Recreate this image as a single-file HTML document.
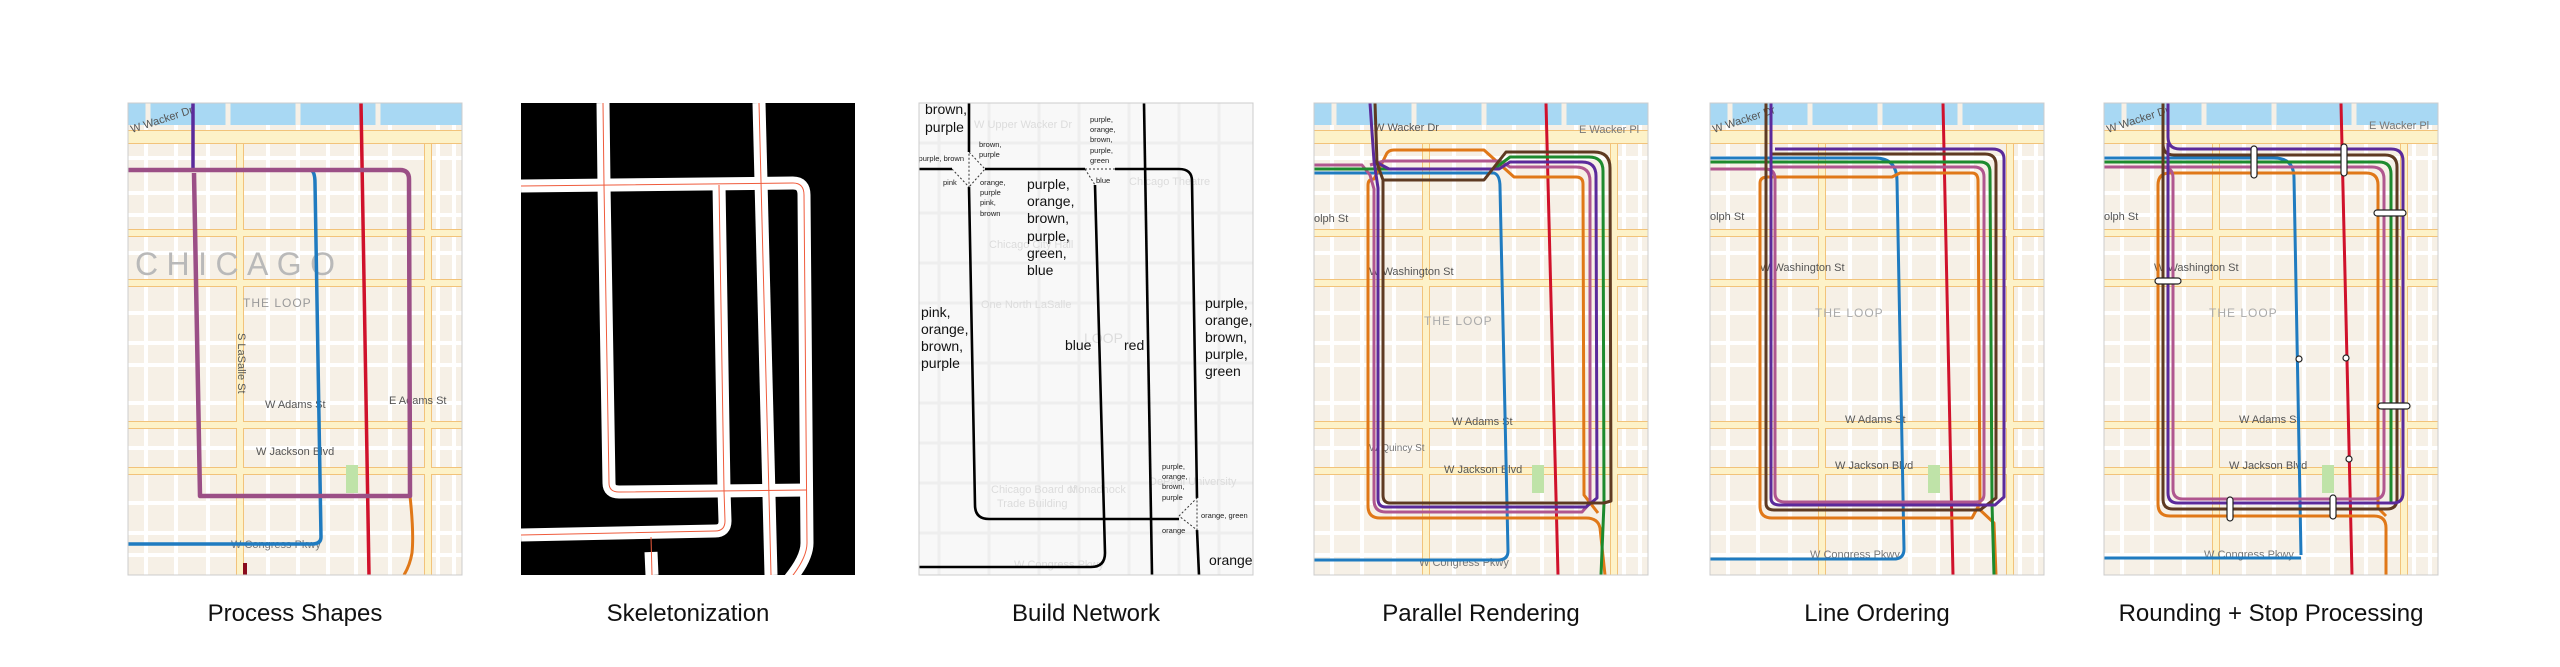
<!DOCTYPE html>
<html><head><meta charset="utf-8"><style>
html,body{margin:0;padding:0;background:#fff;}
svg{display:block;}
text{font-family:"Liberation Sans",sans-serif;}
</style></head><body>
<svg width="2560" height="667" viewBox="0 0 2560 667" xmlns="http://www.w3.org/2000/svg">
<defs>
<clipPath id="cp"><rect x="0" y="0" width="334" height="472"/></clipPath>
<g id="map">
<rect x="0" y="0" width="334" height="472" fill="#f6f0e6"/>
<g stroke="#ffffff" stroke-width="4" fill="none">
<path d="M18 0V472M48 0V472M80 0V472M140 0V472M170 0V472M200 0V472M228 0V472M262 0V472M310 0V472M326 0V472"/>
<path d="M0 55H334M0 90H334M0 112H334M0 150H334M0 210H334M0 240H334M0 262H334M0 300H334M0 345H334M0 400H334M0 430H334M0 452H334"/>
</g>
<g stroke="#f2c37a" stroke-width="8" fill="none">
<path d="M112 40V472M300 40V472M0 130H334M0 180H334M0 322H334M0 368H334"/>
</g>
<g stroke="#fdf2c8" stroke-width="6" fill="none">
<path d="M112 40V472M300 40V472M0 130H334M0 180H334M0 322H334M0 368H334"/>
</g>
<path d="M0 34H334" stroke="#f2c37a" stroke-width="14"/>
<path d="M0 34H334" stroke="#fdf2c8" stroke-width="12"/>
<rect x="0" y="0" width="334" height="22" fill="#a8d8f3"/>
<path d="M20 0V22M100 0V22M170 0V22M250 0V22" stroke="#f6f0e6" stroke-width="5"/>
<rect x="218" y="362" width="12" height="28" fill="#bfe3a8"/>
</g>
<g id="mapl">
<text x="4" y="30" font-size="11" fill="#555" transform="rotate(-18 4 30)">W Wacker Dr</text>
<text x="50" y="168" font-size="11" fill="#555">W Washington St</text>
<text x="105" y="214" font-size="12" fill="#aaa" letter-spacing="1">THE LOOP</text>
<text x="135" y="320" font-size="11" fill="#555">W Adams St</text>
<text x="125" y="366" font-size="11" fill="#555">W Jackson Blvd</text>
<text x="100" y="455" font-size="11" fill="#777">W Congress Pkwy</text>
<text x="0" y="117" font-size="11" fill="#555">olph St</text>
</g>
</defs>

<!-- Panel 1 -->
<g transform="translate(128,103)">
<g clip-path="url(#cp)">
<use href="#map"/>
<text x="4" y="30" font-size="11" fill="#555" transform="rotate(-18 4 30)">W Wacker Dr</text>
<text x="7" y="172" font-size="32" fill="#b9b9b9" textLength="200" lengthAdjust="spacing">CHICAGO</text>
<text x="115" y="204" font-size="12" fill="#999" letter-spacing="1">THE LOOP</text>
<text x="137" y="305" font-size="11" fill="#555">W Adams St</text>
<text x="261" y="301" font-size="11" fill="#555">E Adams St</text>
<text x="128" y="352" font-size="11" fill="#555">W Jackson Blvd</text>
<text x="103" y="445" font-size="11" fill="#777">W Congress Pkwy</text>
<text x="110" y="230" font-size="11" fill="#555" transform="rotate(90 110 230)">S LaSalle St</text>
<path d="M65 0V67" stroke="#5b2a9b" stroke-width="3.5" fill="none"/>
<path d="M233 0L241 472" stroke="#d0112b" stroke-width="3.5" fill="none"/>
<path d="M183 67Q187 69 187 80L193 434Q193 441 184 441L0 441" stroke="#1f7bc0" stroke-width="3.5" fill="none"/>
<path d="M282 393Q286 430 284 450Q282 462 276 472" stroke="#e07818" stroke-width="3" fill="none"/>
<path d="M117 460V472" stroke="#8a0c1c" stroke-width="4"/>
<path d="M0 67L272 67Q281 67 281 76L282 393L72 393L66 70" stroke="#9b4f86" stroke-width="4.5" fill="none" stroke-linejoin="round"/>
</g>
<rect x="0" y="0" width="334" height="472" fill="none" stroke="#ccc"/>
</g>

<!-- Panel 2 -->
<g transform="translate(521,103)">
<g clip-path="url(#cp)">
<rect x="0" y="0" width="334" height="472" fill="#000"/>
<g fill="none" stroke="#fff" stroke-width="13" stroke-linejoin="round">
<path d="M0 83L272 80Q283 80 283 92L286 440Q286 455 269 476"/>
<path d="M82 0L83 82L88 380Q88 389 98 389L286 387"/>
<path d="M198 82L203 387L204 418Q204 428 194 428L0 432"/>
<path d="M238 0L250 472"/>
<path d="M130 449L131 472"/>
</g>
<g fill="none" stroke="#ef5b3c" stroke-width="1">
<path d="M0 83L272 80Q283 80 283 92L286 440Q286 455 269 476"/>
<path d="M82 0L83 82L88 380Q88 389 98 389L286 387"/>
<path d="M198 82L203 387L204 418Q204 428 194 428L0 432"/>
<path d="M238 0L250 472"/>
<path d="M130 434L131 472"/>
</g>
</g>
</g>

<!-- Panel 3 -->
<g transform="translate(919,103)">
<g clip-path="url(#cp)">
<rect x="0" y="0" width="334" height="472" fill="#f8f8f8"/>
<g stroke="#eeeeee" stroke-width="3" fill="none">
<path d="M20 0V472M70 0V472M120 0V472M160 0V472M210 0V472M260 0V472M300 0V472"/>
<path d="M0 40H334M0 110H334M0 160H334M0 200H334M0 260H334M0 300H334M0 340H334M0 380H334M0 430H334"/>
</g>
<g font-size="11" fill="#dcdcdc">
<text x="55" y="25">W Upper Wacker Dr</text>
<text x="70" y="145">Chicago City Hall</text>
<text x="62" y="205">One North LaSalle</text>
<text x="210" y="82">Chicago Theatre</text>
<text x="165" y="240" font-size="14">LOOP</text>
<text x="72" y="390">Chicago Board of</text>
<text x="78" y="404">Trade Building</text>
<text x="150" y="390">Monadnock</text>
<text x="230" y="382">DePaul University</text>
<text x="95" y="465">W Congress Pkwy</text>
</g>
<g fill="none" stroke="#000" stroke-width="2.6" stroke-linejoin="round">
<path d="M0 66L33 66M66 66L166 66M196 66L260 66Q273 66 273 78L278 395"/>
<path d="M278 427L280 472"/>
<path d="M50 0L50 49M50 84L56 402Q56 416 70 416L260 416"/>
<path d="M176 82L186 450Q186 464 172 464L0 464"/>
<path d="M225 0L233 472"/>
</g>
<g fill="none" stroke="#333" stroke-width="1" stroke-dasharray="2 2">
<path d="M33 66L50 84L50 49L66 66L50 84"/>
<path d="M166 66L196 66M166 66L176 82"/>
<path d="M260 413L278 395L278 427L260 413"/>
</g>
<g font-size="14" fill="#111">
<text x="6" y="11">brown,</text><text x="6" y="29">purple</text>
<text x="108" y="86">purple,</text><text x="108" y="103">orange,</text><text x="108" y="120">brown,</text><text x="108" y="138">purple,</text><text x="108" y="155">green,</text><text x="108" y="172">blue</text>
<text x="2" y="214">pink,</text><text x="2" y="231">orange,</text><text x="2" y="248">brown,</text><text x="2" y="265">purple</text>
<text x="146" y="247">blue</text><text x="205" y="247">red</text>
<text x="286" y="205">purple,</text><text x="286" y="222">orange,</text><text x="286" y="239">brown,</text><text x="286" y="256">purple,</text><text x="286" y="273">green</text>
<text x="290" y="462">orange</text><text x="290" y="479">green</text>
</g>
<g font-size="7.5" fill="#222">
<text x="60" y="44">brown,</text><text x="60" y="54">purple</text>
<text x="45" y="58" text-anchor="end">purple, brown</text>
<text x="24" y="82">pink</text>
<text x="61" y="82">orange,</text><text x="61" y="92">purple</text><text x="61" y="102">pink,</text><text x="61" y="113">brown</text>
<text x="171" y="19">purple,</text><text x="171" y="29">orange,</text><text x="171" y="39">brown,</text><text x="171" y="50">purple,</text><text x="171" y="60">green</text>
<text x="177" y="80">blue</text>
<text x="243" y="366">purple,</text><text x="243" y="376">orange,</text><text x="243" y="386">brown,</text><text x="243" y="397">purple</text>
<text x="282" y="415">orange, green</text>
<text x="243" y="430">orange</text>
</g>
</g>
<rect x="0" y="0" width="334" height="472" fill="none" stroke="#ccc"/>
</g>

<!-- Panel 4 -->
<g transform="translate(1314,103)">
<g clip-path="url(#cp)">
<use href="#map"/>
<text x="60" y="28" font-size="11" fill="#555">W Wacker Dr</text>
<text x="265" y="30" font-size="11" fill="#777">E Wacker Pl</text>
<text x="55" y="172" font-size="11" fill="#555">W Washington St</text>
<text x="110" y="222" font-size="12" fill="#aaa" letter-spacing="1">THE LOOP</text>
<text x="138" y="322" font-size="11" fill="#555">W Adams St</text>
<text x="130" y="370" font-size="11" fill="#555">W Jackson Blvd</text>
<text x="55" y="348" font-size="10" fill="#777">W Quincy St</text>
<text x="105" y="463" font-size="11" fill="#777">W Congress Pkwy</text>
<text x="0" y="119" font-size="11" fill="#555">olph St</text>
<g fill="none" stroke-width="3" stroke-linejoin="round">
<path d="M0 70L180 70Q186 72 186 84L194 448Q194 457 184 457L0 457" stroke="#1f7bc0"/>
<path d="M232 0L244 472" stroke="#d0112b"/>
<path d="M291 472L286 425Q284 415 272 415L66 415Q54 415 54 403L54 82Q54 76 60 76L72 52Q74 47 80 47L170 47L200 74L262 74Q269 74 269 81L270 392L284 410" stroke="#e07818"/>
<path d="M0 62L48 62L56 72L60 86L60 397Q60 409 72 409L268 409L276 400L276 78Q276 64 262 64L196 64L186 58L70 58L56 62" stroke="#b0568f"/>
<path d="M0 66L180 66L196 54L275 54Q289 54 289 68L290 400L287 472" stroke="#1d8a2e"/>
<path d="M56 0L60 58L75 66L185 66L196 59L268 59Q282 59 282 73L283 395L272 404L72 404Q64 404 64 396L64 85L60 58" stroke="#5b2a9b"/>
<path d="M61 0L63 60L69 77L170 77L192 49L280 49Q296 49 296 65L297 398L290 400L76 400Q69 400 69 392L69 77" stroke="#5e3a22"/>
</g>
</g>
<rect x="0" y="0" width="334" height="472" fill="none" stroke="#ccc"/>
</g>

<!-- Panel 5 -->
<g transform="translate(1710,103)">
<g clip-path="url(#cp)">
<use href="#map"/>
<use href="#mapl"/>
<g fill="none" stroke-width="3" stroke-linejoin="round">
<path d="M0 55L165 55Q187 55 187 78L194 446Q194 456 184 456L0 456" stroke="#1f7bc0"/>
<path d="M233 0L243 472" stroke="#d0112b"/>
<path d="M50 80Q50 74 58 74L182 74L190 70L262 70Q268 70 268 78L270 400L262 415L62 415Q50 415 50 403Z M268 405L284 420L286 472" stroke="#e07818"/>
<path d="M0 66L55 66Q65 66 65 76L65 390Q65 399 75 399L266 399Q274 399 274 391L274 74Q274 64 264 64L60 64" stroke="#b0568f"/>
<path d="M0 59L270 59Q280 59 280 69L282 400L284 472" stroke="#1d8a2e"/>
<path d="M56 0L56 400Q56 407 64 407L270 407L286 395L286 62Q286 51 275 51L62 51" stroke="#5e3a22"/>
<path d="M61 0L61 395Q61 402 70 402L285 402L294 394L294 56Q294 46 282 46L65 46" stroke="#5b2a9b"/>
</g>
</g>
<rect x="0" y="0" width="334" height="472" fill="none" stroke="#ccc"/>
</g>

<!-- Panel 6 -->
<g transform="translate(2104,103)">
<g clip-path="url(#cp)">
<use href="#map"/>
<use href="#mapl"/>
<text x="265" y="26" font-size="11" fill="#777">E Wacker Pl</text>
<g fill="none" stroke-width="3" stroke-linejoin="round">
<path d="M0 55L170 55Q190 55 190 75L197 452M0 455L197 455" stroke="#1f7bc0"/>
<path d="M237 0L248 472" stroke="#d0112b"/>
<path d="M282 472L282 425Q282 413 270 413L66 413Q54 413 54 401L54 82Q54 70 66 70L262 70Q274 70 274 82L274 405L282 413" stroke="#e07818"/>
<path d="M0 64L58 64Q69 64 69 75L69 386Q69 396 79 396L270 396Q280 396 280 386L280 76Q280 64 268 64L60 64" stroke="#b0568f"/>
<path d="M0 59L275 59Q287 59 287 71L287 400" stroke="#1d8a2e"/>
<path d="M59 0L59 396Q59 406 69 406L283 406Q293 406 293 396L293 64Q293 52 281 52L70 52Q59 52 59 41" stroke="#5e3a22"/>
<path d="M64 0L64 34Q64 46 76 46L287 46Q299 46 299 58L299 390Q299 400 289 400L74 400Q64 400 64 390L64 40" stroke="#5b2a9b"/>
</g>
<g fill="#fff" stroke="#222" stroke-width="1.2">
<rect x="147" y="43" width="6" height="32" rx="3"/>
<rect x="237" y="41" width="6" height="32" rx="3"/>
<rect x="270" y="107" width="32" height="6" rx="3"/>
<rect x="274" y="300" width="32" height="6" rx="3"/>
<rect x="51" y="175" width="26" height="6" rx="3"/>
<rect x="123" y="394" width="6" height="24" rx="3"/>
<rect x="226" y="392" width="6" height="24" rx="3"/>
<circle cx="195" cy="256" r="3"/>
<circle cx="242" cy="255" r="3"/>
<circle cx="245" cy="356" r="3"/>
</g>
</g>
<rect x="0" y="0" width="334" height="472" fill="none" stroke="#ccc"/>
</g>

<g font-size="24" fill="#111" text-anchor="middle">
<text x="295" y="621">Process Shapes</text>
<text x="688" y="621">Skeletonization</text>
<text x="1086" y="621">Build Network</text>
<text x="1481" y="621">Parallel Rendering</text>
<text x="1877" y="621">Line Ordering</text>
<text x="2271" y="621">Rounding + Stop Processing</text>
</g>
</svg>
</body></html>
